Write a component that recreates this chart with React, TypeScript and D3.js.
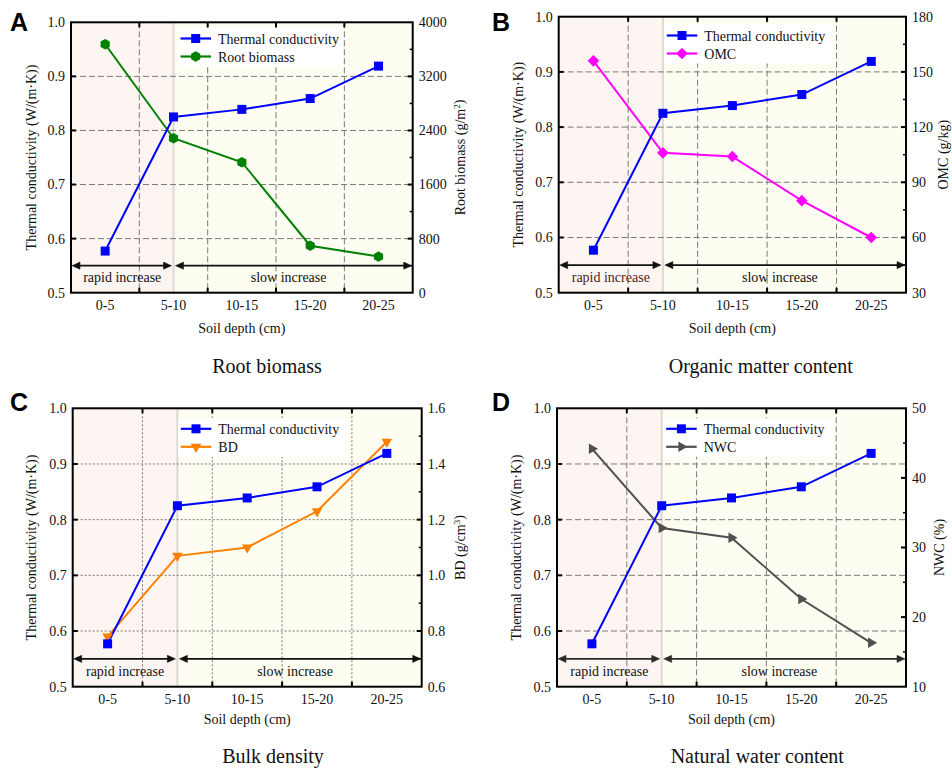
import * as d3 from 'd3'

const depthLabels = ['0-5', '5-10', '10-15', '15-20', '20-25']
const thermalConductivity = [0.577, 0.825, 0.839, 0.859, 0.919]
const rootBiomass = [3675, 2285, 1930, 695, 535]
const organicMatter = [156, 106, 104, 80, 60]
const bulkDensity = [0.78, 1.07, 1.1, 1.23, 1.48]
const waterContent = [44.2, 32.8, 31.4, 22.6, 16.3]

const leftTicks = [0.5, 0.6, 0.7, 0.8, 0.9, 1.0]
const rootTicks = [0, 800, 1600, 2400, 3200, 4000]
const omcTicks = [30, 60, 90, 120, 150, 180]
const bdTicks = [0.6, 0.8, 1.0, 1.2, 1.4, 1.6]
const nwcTicks = [10, 20, 30, 40, 50]

const SERIF = "'Liberation Serif', 'Times New Roman', serif"
const SANS = "'Liberation Sans', Arial, sans-serif"

const panels = [
  {
    letter: 'A', lx: 10, ly: 31,
    left: 71, right: 412.7, top: 22.3, bottom: 292.7,
    rTicks: rootTicks, rFormat: d3.format('d'), values: rootBiomass,
    name: 'Root biomass', color: '#008000', marker: 'hexagon',
    rTitle: ['Root biomass (g/m', '2', ')'], rTitleX: 460,
    legend: { x: 178, y: 28, w: 165 },
    xTitleDy: 40, subtitle: 'Root biomass', subX: 267, subY: 373,
    lTitleX: 31, grid: '6,3', rapidColor: '#111', arrowColor: '#111',
  },
  {
    letter: 'B', lx: 492, ly: 31,
    left: 558.7, right: 906, top: 16.7, bottom: 292.7,
    rTicks: omcTicks, rFormat: d3.format('d'), values: organicMatter,
    name: 'OMC', color: '#ff00ff', marker: 'diamond',
    rTitle: ['OMC (g/kg)', '', ''], rTitleX: 943.5,
    legend: { x: 664.3, y: 25, w: 168 },
    xTitleDy: 40, subtitle: 'Organic matter content', subX: 760.7, subY: 373,
    lTitleX: 517.7, grid: '6,3', rapidColor: '#4a1c1c', arrowColor: '#111',
  },
  {
    letter: 'C', lx: 10, ly: 411,
    left: 72.7, right: 421.7, top: 408.3, bottom: 686.7,
    rTicks: bdTicks, rFormat: d3.format('.1f'), values: bulkDensity,
    name: 'BD', color: '#ff8000', marker: 'triangleDown',
    rTitle: ['BD (g/cm', '3', ')'], rTitleX: 460,
    legend: { x: 178.3, y: 418.3, w: 168 },
    xTitleDy: 37, subtitle: 'Bulk density', subX: 273, subY: 763,
    lTitleX: 31, grid: '2,2', rapidColor: '#111', arrowColor: '#111',
  },
  {
    letter: 'D', lx: 492, ly: 411,
    left: 557, right: 906, top: 408.3, bottom: 686.7,
    rTicks: nwcTicks, rFormat: d3.format('d'), values: waterContent,
    name: 'NWC', color: '#505050', marker: 'triangleRight',
    rTitle: ['NWC (%)', '', ''], rTitleX: 939.3,
    legend: { x: 663.7, y: 418.3, w: 170 },
    xTitleDy: 37, subtitle: 'Natural water content', subX: 757.3, subY: 763,
    lTitleX: 516, grid: '6,3', rapidColor: '#111', arrowColor: '#2a2a2a',
  },
]

const hexagon = (r: number) =>
  d3.range(6).map((k) => {
    const a = (Math.PI / 3) * k - Math.PI / 2
    return [r * Math.cos(a), r * Math.sin(a)]
  })

function Marker({ kind, x, y, color }: { kind: string; x: number; y: number; color: string }) {
  if (kind === 'square') {
    return <rect x={x - 4.5} y={y - 4.5} width={9} height={9} fill={color} />
  }
  if (kind === 'hexagon') {
    return <polygon points={hexagon(5.3).map((p) => `${x + p[0]},${y + p[1]}`).join(' ')} fill={color} />
  }
  if (kind === 'diamond') {
    const path = d3.symbol(d3.symbolSquare, 68)()
    return <path d={path!} transform={`translate(${x},${y}) rotate(45)`} fill={color} />
  }
  const tri = d3.symbol(d3.symbolTriangle, 48)()
  const rot = kind === 'triangleDown' ? 180 : 90
  return <path d={tri!} transform={`translate(${x},${y}) rotate(${rot})`} fill={color} />
}

function Arrow({ x1, x2, y, color }: { x1: number; x2: number; y: number; color: string }) {
  const hl = 8
  const hh = 3.6
  return (
    <g fill={color} stroke={color}>
      <line x1={x1 + hl - 1} x2={x2 - hl + 1} y1={y} y2={y} strokeWidth={1.8} />
      <polygon points={`${x1},${y} ${x1 + hl},${y - hh} ${x1 + hl},${y + hh}`} strokeWidth={0.5} />
      <polygon points={`${x2},${y} ${x2 - hl},${y - hh} ${x2 - hl},${y + hh}`} strokeWidth={0.5} />
    </g>
  )
}

function Panel({ p }: { p: (typeof panels)[number] }) {
  const x = d3.scaleLinear().domain([-0.5, 4.5]).range([p.left, p.right])
  const yL = d3.scaleLinear().domain([0.5, 1.0]).range([p.bottom, p.top])
  const yR = d3
    .scaleLinear()
    .domain(d3.extent(p.rTicks) as [number, number])
    .range([p.bottom, p.top])
  const split = x(1)
  const gridX = [0.5, 1.5, 2.5, 3.5]
  const gridY = leftTicks.slice(1, -1)
  const step = p.rTicks[1] - p.rTicks[0]
  const minor = p.rTicks.slice(0, -1).map((t) => t + step / 2)
  const arrowY = yL(0.55)

  const tcLine = d3
    .line<number>()
    .x((_, i) => x(i))
    .y((d) => yL(d))
  const rLine = d3
    .line<number>()
    .x((_, i) => x(i))
    .y((d) => yR(d))

  const midY = (p.top + p.bottom) / 2
  const lg = p.legend
  const legendRows = [
    { label: 'Thermal conductivity', color: '#0000ff', kind: 'square' },
    { label: p.name, color: p.color, kind: p.marker },
  ]

  return (
    <g>
      <rect x={p.left} y={p.top} width={split - p.left} height={p.bottom - p.top} fill="#fdf5f1" />
      <rect x={split} y={p.top} width={p.right - split} height={p.bottom - p.top} fill="#fdfdf1" />
      <line x1={split} x2={split} y1={p.top} y2={p.bottom} stroke="#dcd8d2" strokeWidth={2} />

      <g stroke="#7a7a7a" strokeWidth={1} strokeDasharray={p.grid}>
        {gridX.map((g) => (
          <line key={'gx' + g} x1={x(g)} x2={x(g)} y1={p.top} y2={p.bottom} />
        ))}
        {gridY.map((g) => (
          <line key={'gy' + g} x1={p.left} x2={p.right} y1={yL(g)} y2={yL(g)} />
        ))}
      </g>

      <rect x={lg.x} y={lg.y} width={lg.w} height={38.5} fill="#ffffff" />
      {legendRows.map((r, i) => {
        const cy = lg.y + 10.5 + i * 18
        return (
          <g key={r.label}>
            <line x1={lg.x + 2.5} x2={lg.x + 33} y1={cy} y2={cy} stroke={r.color} strokeWidth={2.2} />
            <Marker kind={r.kind} x={lg.x + 17.7} y={cy} color={r.color} />
            <text x={lg.x + 40} y={cy + 5} fontSize={14} fontFamily={SERIF} fill="#111">
              {r.label}
            </text>
          </g>
        )
      })}

      <Arrow x1={p.left + 1} x2={split - 2} y={arrowY} color={p.arrowColor} />
      <Arrow x1={split + 2} x2={p.right - 1} y={arrowY} color={p.arrowColor} />
      <text x={(p.left + split) / 2} y={p.bottom - 11} textAnchor="middle" fontSize={14} fontFamily={SERIF} fill={p.rapidColor}>
        rapid increase
      </text>
      <text x={(split + p.right) / 2 - 4.5} y={p.bottom - 11} textAnchor="middle" fontSize={14} fontFamily={SERIF} fill="#111">
        slow increase
      </text>

      <path d={rLine(p.values)!} fill="none" stroke={p.color} strokeWidth={2} />
      <path d={tcLine(thermalConductivity)!} fill="none" stroke="#0000ff" strokeWidth={2} />
      {p.values.map((v, i) => (
        <Marker key={'r' + i} kind={p.marker} x={x(i)} y={yR(v)} color={p.color} />
      ))}
      {thermalConductivity.map((v, i) => (
        <Marker key={'t' + i} kind="square" x={x(i)} y={yL(v)} color="#0000ff" />
      ))}

      <rect x={p.left} y={p.top} width={p.right - p.left} height={p.bottom - p.top} fill="none" stroke="#000" strokeWidth={2} />

      <g stroke="#000" strokeWidth={2}>
        {gridX.map((g) => (
          <g key={'tx' + g}>
            <line x1={x(g)} x2={x(g)} y1={p.bottom} y2={p.bottom - 5} />
            <line x1={x(g)} x2={x(g)} y1={p.top} y2={p.top + 5} />
          </g>
        ))}
        {gridY.map((g) => (
          <line key={'ty' + g} x1={p.left} x2={p.left + 5} y1={yL(g)} y2={yL(g)} />
        ))}
        {p.rTicks.slice(1, -1).map((t) => (
          <line key={'tr' + t} x1={p.right} x2={p.right - 5} y1={yR(t)} y2={yR(t)} />
        ))}
        {minor.map((t) => (
          <line key={'mr' + t} x1={p.right} x2={p.right - 3} y1={yR(t)} y2={yR(t)} strokeWidth={1.5} />
        ))}
      </g>

      <g fontSize={14} fontFamily={SERIF} fill="#111">
        {leftTicks.map((t) => (
          <text key={'l' + t} x={p.left - 6} y={yL(t)} dy="0.35em" textAnchor="end">
            {d3.format('.1f')(t)}
          </text>
        ))}
        {p.rTicks.map((t) => (
          <text key={'r' + t} x={p.right + 6} y={yR(t)} dy="0.35em">
            {p.rFormat(t)}
          </text>
        ))}
        {depthLabels.map((d, i) => (
          <text key={d} x={x(i)} y={p.bottom + 17.5} textAnchor="middle">
            {d}
          </text>
        ))}
        <text x={(p.left + p.right) / 2} y={p.bottom + p.xTitleDy} textAnchor="middle">
          Soil depth (cm)
        </text>
        <text transform={`translate(${p.lTitleX},${midY}) rotate(-90)`} textAnchor="middle" dy="0.35em">
          Thermal conductivity (W/(m·K))
        </text>
        <text transform={`translate(${p.rTitleX},${midY}) rotate(-90)`} textAnchor="middle" dy="0.35em">
          {p.rTitle[0]}
          {p.rTitle[1] && (
            <tspan fontSize={9} dy="-0.6em">
              {p.rTitle[1]}
            </tspan>
          )}
          {p.rTitle[2] && <tspan dy={p.rTitle[1] ? '0.35em' : 0}>{p.rTitle[2]}</tspan>}
        </text>
      </g>

      <text x={p.subX} y={p.subY} textAnchor="middle" fontSize={20} fontFamily={SERIF} fill="#111">
        {p.subtitle}
      </text>
      <text x={p.lx} y={p.ly} fontSize={25} fontWeight="bold" fontFamily={SANS} fill="#000">
        {p.letter}
      </text>
    </g>
  )
}

export default function App() {
  return (
    <svg width={952} height={769} style={{ position: 'absolute', left: 0, top: 0, background: '#fff' }}>
      {panels.map((p) => (
        <Panel key={p.letter} p={p} />
      ))}
    </svg>
  )
}
